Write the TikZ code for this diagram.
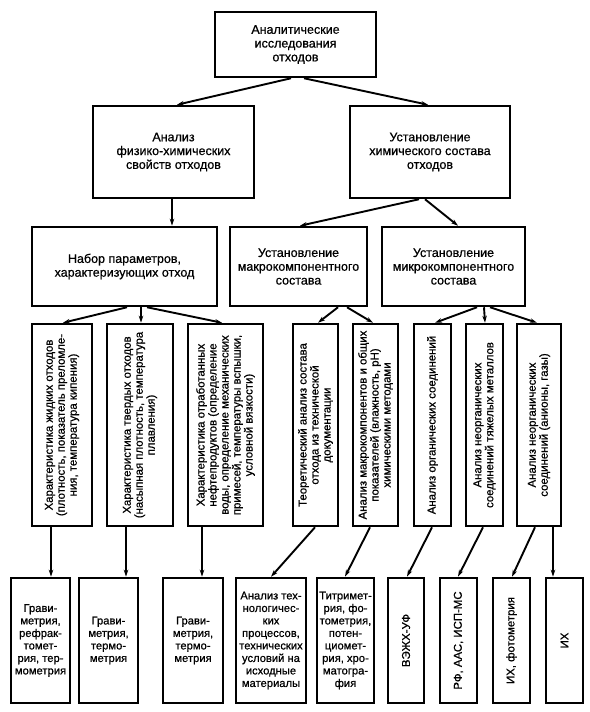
\documentclass[tikz,border=0pt]{standalone}
\usepackage{fontspec}
\setmainfont{Liberation Sans}[FakeBold=0.6]
\usetikzlibrary{arrows.meta}
\begin{document}
\begin{tikzpicture}[x=1pt,y=-1pt,
  box/.style={draw, line width=2.5pt, inner sep=0pt, align=center, font=\fontsize{12.5}{13.8}\selectfont},
  vbox/.style={draw, line width=2.5pt, inner sep=0pt, minimum height=202pt},
  bbox/.style={draw, line width=2.5pt, inner sep=0pt, minimum height=125pt, align=center, font=\fontsize{11.2}{12.5}\selectfont},
  rtxt/.style={rotate=90, align=center, inner sep=0pt, font=\fontsize{11.4}{12}\selectfont},
  arr/.style={line width=1.9pt, -{Stealth[length=7pt,width=4.5pt]}}]
\fill[white] (0,0) rectangle (589,712);
\useasboundingbox (0,0) rectangle (589,712);

% level 1
\node[box, minimum width=161pt, minimum height=65pt] (a) at (295.5,44.5) {Аналитические\\исследования\\отходов};
% level 2
\node[box, minimum width=161pt, minimum height=92pt] (b1) at (173.5,152) {Анализ\\физико-химических\\свойств отходов};
\node[box, minimum width=160pt, minimum height=92pt] (b2) at (430,152) {Установление\\химического состава\\отходов};
% level 3
\node[box, minimum width=185pt, minimum height=79pt] (c1) at (124.5,266.5) {Набор параметров,\\характеризующих отход};
\node[box, minimum width=137pt, minimum height=79pt] (c2) at (298.5,266.5) {Установление\\макрокомпонентного\\состава};
\node[box, minimum width=143pt, minimum height=79pt] (c3) at (453.5,266.5) {Установление\\микрокомпонентного\\состава};

% level 4 (vertical boxes)
\node[vbox, minimum width=60pt] (v1) at (62,425) {};
\node[rtxt] (v1t) at (v1) {Характеристика жидких отходов\\(плотность, показатель преломле-\\ния, температура кипения)};
\node[vbox, minimum width=66pt] (v2) at (140,425) {};
\node[rtxt] (v2t) at (v2) {Характеристика твердых отходов\\(насыпная плотность, температура\\плавления)};
\node[vbox, minimum width=75pt] (v3) at (225.5,425) {};
\node[rtxt] (v3t) at (v3) {Характеристика отработанных\\нефтепродуктов (определение\\воды, определение механических\\примесей, температуры вспышки,\\условной вязкости)};
\node[vbox, minimum width=45pt] (v4) at (315.5,425) {};
\node[rtxt] (v4t) at (v4) {Теоретический анализ состава\\отхода из технической\\документации};
\node[vbox, minimum width=45pt] (v5) at (375.5,425) {};
\node[rtxt] (v5t) at (v5) {Анализ макрокомпонентов и общих\\показателей (влажность, рН)\\химическими методами};
\node[vbox, minimum width=37pt] (v6) at (432.5,425) {};
\node[rtxt] (v6t) at (v6) {Анализ органических соединений};
\node[vbox, minimum width=37pt] (v7) at (484.5,425) {};
\node[rtxt] (v7t) at (v7) {Анализ неорганических\\соединений тяжелых металлов};
\node[vbox, minimum width=44pt] (v8) at (539,425) {};
\node[rtxt] (v8t) at (v8) {Анализ неорганических\\соединений (анионы, газы)};

% level 5 (bottom boxes)
\node[bbox, minimum width=59pt] (d1) at (40.5,640.5) {Грави-\\метрия,\\рефрак-\\томет-\\рия, тер-\\мометрия};
\node[bbox, minimum width=59pt] (d2) at (108.5,640.5) {Грави-\\метрия,\\термо-\\метрия};
\node[bbox, minimum width=60pt] (d3) at (193,640.5) {Грави-\\метрия,\\термо-\\метрия};
\node[bbox, minimum width=70pt] (d4) at (271,640.5) {Анализ тех-\\нологичес-\\ких\\процессов,\\технических\\условий на\\исходные\\материалы};
\node[bbox, minimum width=57pt] (d5) at (345.5,640.5) {Титримет-\\рия, фо-\\тометрия,\\потен-\\циомет-\\рия, хро-\\матогра-\\фия};
\node[bbox, minimum width=36pt] (d6) at (406,640.5) {};
\node[rtxt] (d6t) at (d6) {ВЭЖХ-УФ};
\node[bbox, minimum width=37pt] (d7) at (458.5,640.5) {};
\node[rtxt] (d7t) at (d7) {РФ, ААС, ИСП-МС};
\node[bbox, minimum width=37pt] (d8) at (511.5,640.5) {};
\node[rtxt] (d8t) at (d8) {ИХ, фотометрия};
\node[bbox, minimum width=37pt] (d9) at (564.5,640.5) {};
\node[rtxt] (d9t) at (d9) {ИХ};

% connectors
\draw[arr] ([xshift=-4.5pt]a.south) -- ([xshift=3.5pt]b1.north);
\draw[arr] ([xshift=8.5pt]a.south) -- ([xshift=-2pt]b2.north);
\draw[arr] ([xshift=-1.5pt]b1.south) -- ([xshift=47.5pt]c1.north);
\draw[arr] ([xshift=-11pt]b2.south) -- ([xshift=1.5pt]c2.north);
\draw[arr] ([xshift=-5pt]b2.south) -- ([xshift=4.5pt]c3.north);

\draw[arr] ([xshift=2.5pt]c1.south) -- ([xshift=1pt]v1.north);
\draw[arr] ([xshift=16.5pt]c1.south) -- ([xshift=1pt]v2.north);
\draw[arr] ([xshift=22.5pt]c1.south) -- ([xshift=-3.5pt]v3.north);
\draw[arr] ([xshift=39.5pt]c2.south) -- ([xshift=2.5pt]v4.north);
\draw[arr] ([xshift=48.5pt]c2.south) -- ([xshift=-2.5pt]v5.north);
\draw[arr] ([xshift=23.5pt]c3.south) -- ([xshift=2.5pt]v6.north);
\draw[arr] ([xshift=30.5pt]c3.south) -- ([xshift=0.5pt]v7.north);
\draw[arr] ([xshift=36.5pt]c3.south) -- ([xshift=-2pt]v8.north);

\draw[arr] ([xshift=-11pt]v1.south) -- ([xshift=10.5pt]d1.north);
\draw[arr] ([xshift=-14pt]v2.south) -- ([xshift=17.5pt]d2.north);
\draw[arr] ([xshift=-23.5pt]v3.south) -- ([xshift=9pt]d3.north);
\draw[arr] ([xshift=-0.5pt]v4.south) -- (d4.north);
\draw[arr] ([xshift=-5.5pt]v5.south) -- ([xshift=-0.5pt]d5.north);
\draw[arr] ([xshift=-0.5pt]v6.south) -- ([xshift=1pt]d6.north);
\draw[arr] ([xshift=-1.5pt]v7.south) -- ([xshift=-0.5pt]d7.north);
\draw[arr] ([xshift=-4pt]v8.south) -- ([xshift=0.5pt]d8.north);
\draw[arr] ([xshift=14pt]v8.south) -- ([xshift=-11.5pt]d9.north);
\end{tikzpicture}
\end{document}
